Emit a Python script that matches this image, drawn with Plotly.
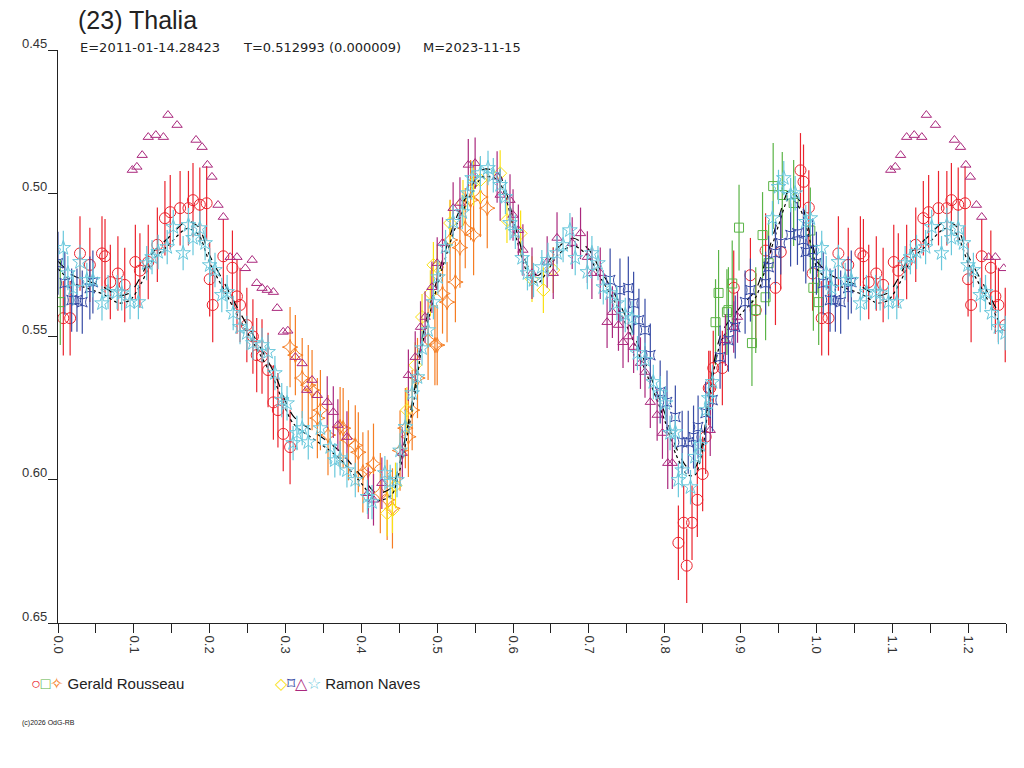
import plotly.graph_objects as go

# phase / magnitude readings, one list pair per observer set
red_phase = [0.007, 0.016, 0.029, 0.042, 0.058, 0.062, 0.069, 0.079, 0.088, 0.102,
             0.108, 0.119, 0.131, 0.141, 0.148, 0.161, 0.172, 0.178, 0.187, 0.196,
             0.200, 0.204, 0.218, 0.230, 0.236, 0.240, 0.249, 0.257, 0.262, 0.269,
             0.277, 0.284, 0.290, 0.297, 0.306,
             0.818, 0.825, 0.829, 0.836, 0.843, 0.850, 0.854, 0.858, 0.860, 0.864,
             0.876, 0.891, 0.913, 0.920, 0.933, 0.946, 0.953, 0.979, 0.983, 0.990, 0.995]
red_mag = [0.5436, 0.5436, 0.521, 0.525, 0.521, 0.522, 0.531, 0.528, 0.532, 0.524,
           0.527, 0.524, 0.518, 0.5087, 0.5066, 0.5052, 0.5052, 0.5024, 0.504, 0.5035,
           0.530, 0.539, 0.522, 0.526, 0.536, 0.539, 0.546, 0.550, 0.5565, 0.557,
           0.5617, 0.573, 0.5757, 0.584, 0.5886,
           0.622, 0.615, 0.630, 0.615, 0.607, 0.598, 0.585, 0.568, 0.568, 0.561,
           0.561, 0.533, 0.5286, 0.5408, 0.520, 0.533, 0.5205, 0.492, 0.496, 0.505, 0.528]

green_phase = [0.003, 0.867, 0.871, 0.882, 0.884, 0.889, 0.898, 0.915, 0.920, 0.929,
               0.933, 0.937, 0.943, 0.955, 0.970, 0.992, 0.996]
green_mag = [0.538, 0.545, 0.5348, 0.5415, 0.5408, 0.5315, 0.512, 0.5523, 0.5408, 0.5146,
             0.5363, 0.5244, 0.4975, 0.5006, 0.5034, 0.513, 0.533]

orange_phase = [0.306, 0.313, 0.322, 0.330, 0.335, 0.342, 0.346, 0.356, 0.372, 0.376,
                0.383, 0.392, 0.396, 0.402, 0.409, 0.416, 0.425, 0.434, 0.441, 0.451,
                0.458, 0.462, 0.467, 0.474, 0.488, 0.497, 0.500, 0.507, 0.513, 0.517,
                0.524, 0.530, 0.537, 0.544, 0.548, 0.557, 0.566]
orange_mag = [0.5537, 0.5565, 0.5645, 0.567, 0.5687, 0.5785, 0.5757, 0.5844, 0.5816, 0.582,
              0.5862, 0.588, 0.5904, 0.5974, 0.5967, 0.5944, 0.6047, 0.607, 0.610, 0.5898,
              0.582, 0.585, 0.5757, 0.5645, 0.5512, 0.553, 0.553, 0.535, 0.538, 0.5163,
              0.531, 0.519, 0.5122, 0.5024, 0.5146, 0.5013, 0.5052]

yellow_phase = [0.434, 0.441, 0.445, 0.460, 0.471, 0.480, 0.491, 0.495, 0.500, 0.517,
                0.534, 0.548, 0.557, 0.583, 0.592, 0.610, 0.625, 0.640, 0.653]
yellow_mag = [0.6117, 0.6106, 0.602, 0.5757, 0.56, 0.5432, 0.5349, 0.525, 0.5258, 0.5104,
              0.5034, 0.4964, 0.4954, 0.493, 0.5094, 0.514, 0.530, 0.5338, 0.5268]

# offset night, plotted without error bars
purple_top_phase = [0.098, 0.104, 0.111, 0.119, 0.129, 0.139, 0.145, 0.157, 0.182, 0.190,
                    0.197, 0.203, 0.211, 0.218, 0.227, 0.236, 0.247, 0.256, 0.262, 0.269,
                    0.276, 0.284, 0.289, 0.297, 0.303, 0.313, 0.322, 0.328, 0.335, 0.342]
purple_top_mag = [0.4919, 0.4908, 0.4867, 0.4804, 0.4797, 0.4804, 0.4727, 0.4762, 0.4814, 0.4839,
                  0.4901, 0.4943, 0.5041, 0.5083, 0.5223, 0.5223, 0.5262, 0.5233, 0.5314, 0.5331,
                  0.5338, 0.5345, 0.5401, 0.5484, 0.548, 0.5572, 0.5594, 0.5687, 0.5652, 0.5705]

purple_phase = [0.355, 0.363, 0.369, 0.381, 0.409, 0.416, 0.427, 0.454, 0.462, 0.471,
                0.478, 0.484, 0.493, 0.500, 0.507, 0.521, 0.530, 0.541, 0.550, 0.579,
                0.583, 0.596, 0.600, 0.607, 0.613, 0.625, 0.645, 0.653, 0.658, 0.678,
                0.689, 0.698, 0.704, 0.715, 0.724, 0.731, 0.739, 0.745, 0.752, 0.759,
                0.768, 0.774, 0.781, 0.790, 0.797, 0.804, 0.810, 0.860, 0.880, 0.891, 0.896]
purple_mag = [0.5729, 0.5764, 0.5809, 0.5851, 0.6047, 0.607, 0.6012, 0.5907, 0.5635, 0.5572,
              0.5467, 0.5432, 0.5328, 0.5244, 0.5174, 0.5052, 0.5034, 0.4901, 0.4895, 0.4943,
              0.5006, 0.5024, 0.5076, 0.5129, 0.5198, 0.5279, 0.524, 0.5279, 0.5156, 0.5174,
              0.514, 0.5223, 0.5279, 0.5279, 0.545, 0.5415, 0.546, 0.552, 0.550, 0.5537,
              0.5593, 0.5624, 0.5729, 0.5774, 0.5837, 0.5942, 0.5942, 0.5827, 0.5513, 0.5467, 0.5432]

blue_phase = [0.000, 0.009, 0.018, 0.025, 0.032, 0.042, 0.046, 0.728, 0.741, 0.752,
              0.759, 0.766, 0.774, 0.781, 0.794, 0.803, 0.814, 0.823, 0.831, 0.838,
              0.844, 0.854, 0.863, 0.873, 0.884, 0.893, 0.906, 0.913, 0.933, 0.937,
              0.946, 0.953, 0.966, 0.975, 0.983, 0.986, 0.995]
blue_mag = [0.5244, 0.5314, 0.5373, 0.5373, 0.538, 0.5331, 0.531, 0.5303, 0.5338, 0.5331,
            0.5384, 0.5443, 0.5478, 0.5565, 0.5694, 0.5729, 0.5781, 0.5869, 0.5869, 0.5851,
            0.5816, 0.5767, 0.5722, 0.5572, 0.5513, 0.5467, 0.538, 0.5338, 0.5314, 0.5258,
            0.5209, 0.5174, 0.5146, 0.514, 0.5163, 0.5205, 0.5198]

cyan_phase = [0.007, 0.013, 0.020, 0.029, 0.038, 0.046, 0.058, 0.066, 0.078, 0.084,
              0.095, 0.106, 0.117, 0.124, 0.132, 0.144, 0.152, 0.165, 0.172, 0.178,
              0.187, 0.194, 0.200, 0.207, 0.216, 0.223, 0.231, 0.240, 0.249, 0.257,
              0.269, 0.277, 0.286, 0.295, 0.302, 0.310, 0.315, 0.322, 0.330, 0.346,
              0.359, 0.365, 0.372, 0.381, 0.392, 0.408, 0.414, 0.431, 0.438, 0.447,
              0.451, 0.458, 0.467, 0.474, 0.480, 0.488, 0.495, 0.501, 0.511, 0.521,
              0.533, 0.540, 0.546, 0.557, 0.567, 0.574, 0.583, 0.590, 0.596, 0.603,
              0.612, 0.619, 0.627, 0.638, 0.646, 0.658, 0.666, 0.675, 0.682, 0.698,
              0.704, 0.712, 0.719, 0.728, 0.737, 0.748, 0.757, 0.764, 0.774, 0.785,
              0.794, 0.801, 0.807, 0.814, 0.823, 0.818, 0.834, 0.840, 0.847, 0.854,
              0.858, 0.863, 0.942, 0.950, 0.957, 0.966, 0.972, 0.986, 0.992]
cyan_mag = [0.5191, 0.5279, 0.5331, 0.524, 0.5303, 0.5303, 0.5384, 0.5345, 0.5345, 0.5349,
            0.538, 0.538, 0.5244, 0.5223, 0.5205, 0.5188, 0.5118, 0.5209, 0.5111, 0.5156,
            0.5122, 0.5174, 0.5251, 0.5268, 0.5355, 0.5345, 0.5418, 0.5467, 0.5488, 0.5523,
            0.553, 0.5554, 0.5628, 0.5722, 0.5733, 0.5872, 0.5837, 0.582, 0.5869, 0.582,
            0.5886, 0.5932, 0.5925, 0.5967, 0.6001, 0.606, 0.6078, 0.5977, 0.6008, 0.6001,
            0.5898, 0.5816, 0.5698, 0.5642, 0.5541, 0.5478, 0.538, 0.5293, 0.5188, 0.510,
            0.5066, 0.500, 0.4947, 0.493, 0.4912, 0.4937, 0.4971, 0.5013, 0.5104, 0.5135,
            0.5226, 0.5279, 0.5303, 0.5258, 0.5233, 0.5209, 0.5181, 0.5129, 0.5226, 0.5275,
            0.5209, 0.5244, 0.5328, 0.5349, 0.5384, 0.5425, 0.5436, 0.5558, 0.5582, 0.5659,
            0.5698, 0.5733, 0.5837, 0.5834, 0.5967, 0.6001, 0.6026, 0.592, 0.5879, 0.5757,
            0.5715, 0.5659, 0.5087, 0.4978, 0.4947, 0.5006, 0.500, 0.510, 0.5087]

# fitted lightcurve
fit_phase = [0.00, 0.02, 0.04, 0.06, 0.08, 0.095, 0.11, 0.125, 0.145, 0.17,
             0.185, 0.20, 0.22, 0.24, 0.26, 0.285, 0.31, 0.34, 0.37, 0.40,
             0.42, 0.44, 0.45, 0.46, 0.47, 0.48, 0.495, 0.51, 0.525, 0.545,
             0.56, 0.58, 0.59, 0.605, 0.62, 0.633, 0.645, 0.66, 0.68, 0.70,
             0.715, 0.735, 0.755, 0.775, 0.80, 0.815, 0.83, 0.84, 0.85, 0.86,
             0.875, 0.90, 0.92, 0.935, 0.95, 0.965, 0.98, 1.00]
fit_mag = [0.525, 0.530, 0.532, 0.534, 0.537, 0.536, 0.530, 0.522, 0.517, 0.511,
           0.513, 0.523, 0.533, 0.543, 0.552, 0.564, 0.579, 0.585, 0.591, 0.600,
           0.606, 0.604, 0.596, 0.584, 0.570, 0.552, 0.536, 0.522, 0.510, 0.499,
           0.493, 0.494, 0.500, 0.515, 0.527, 0.530, 0.526, 0.520, 0.517, 0.521,
           0.528, 0.537, 0.548, 0.561, 0.578, 0.590, 0.597, 0.597, 0.588, 0.568,
           0.550, 0.541, 0.535, 0.523, 0.510, 0.500, 0.505, 0.525]

y_ticks = [0.45, 0.50, 0.55, 0.60, 0.65]
x_ticks = [0.0, 0.1, 0.2, 0.3, 0.4, 0.5, 0.6, 0.7, 0.8, 0.9, 1.0, 1.1, 1.2]

WRAP = 0.25  # phases below this are repeated after 1.0


def wrap(phase, mag):
    xs = list(phase) + [p + 1 for p in phase if p <= WRAP]
    ys = list(mag) + [m for p, m in zip(phase, mag) if p <= WRAP]
    return xs, ys


RED = "rgb(235,35,45)"
GREEN = "rgb(90,180,70)"
ORANGE = "rgb(245,125,35)"
YELLOW = "rgb(250,225,20)"
PURPLE = "rgb(170,40,125)"
BLUE = "rgb(55,75,165)"
CYAN = "rgb(105,200,220)"

fig = go.Figure()


def add_points(phase, mag, color, symbol, size, err):
    xs, ys = wrap(phase, mag)
    fig.add_trace(go.Scatter(
        x=xs, y=ys, mode="markers",
        marker=dict(symbol=symbol, size=size, color=color, line=dict(color=color, width=1)),
        error_y=dict(type="constant", value=err, color=color, thickness=1.2, width=0,
                     visible=err > 0),
        showlegend=False, hoverinfo="x+y"))


add_points(red_phase, red_mag, RED, "circle-open", 11, 0.013)
add_points(green_phase, green_mag, GREEN, "square-open", 9, 0.015)
add_points(orange_phase, orange_mag, ORANGE, "star-diamond-open", 11, 0.014)
add_points(yellow_phase, yellow_mag, YELLOW, "diamond-open", 10, 0.008)

# fitted curve with its close companion
fx, fy = wrap(fit_phase, fit_mag)
order = sorted(range(len(fx)), key=lambda i: fx[i])
fx = [fx[i] for i in order]
fy = [fy[i] for i in order]
for off, dash in [(-0.0013, "dash"), (0.0013, "dot")]:
    fig.add_trace(go.Scatter(
        x=fx, y=[v + off for v in fy], mode="lines",
        line=dict(color="black", width=1.2, dash=dash, shape="spline", smoothing=0.8),
        showlegend=False, hoverinfo="skip"))

add_points(purple_top_phase, purple_top_mag, PURPLE, "triangle-up-open", 9, 0)
add_points(purple_phase, purple_mag, PURPLE, "triangle-up-open", 9, 0.009)
add_points(blue_phase, blue_mag, BLUE, "star-square-open", 9, 0.011)
add_points(cyan_phase, cyan_mag, CYAN, "star-open", 11, 0.006)

annotations = []
for v in y_ticks:
    annotations.append(dict(x=0, y=v, xref="paper", yref="y", text=f"{v:.2f}",
                            showarrow=False, xanchor="right", yanchor="middle",
                            xshift=-9, yshift=7, font=dict(size=13, color="#333")))

# subtitle pieces, placed where they sit in the original
subtitle = [(0.021, "E=2011-01-14.28423"), (0.193, "T=0.512993 (0.000009)"),
            (0.383, "M=2023-11-15")]
for xpos, txt in subtitle:
    annotations.append(dict(x=xpos, y=1.004, xref="paper", yref="paper", text=txt,
                            showarrow=False, xanchor="left", yanchor="middle",
                            font=dict(family="DejaVu Sans, sans-serif", size=13, color="#222")))

legend_items = [
    (-0.031, [("○", RED), ("□", GREEN), ("✧", ORANGE)], "Gerald Rousseau"),
    (0.227, [("◇", YELLOW), ("⌑", BLUE), ("△", PURPLE), ("☆", CYAN)], "Ramon Naves"),
]
for xpos, syms, name in legend_items:
    marks = "".join(f'<span style="color:{c};font-size:16px">{s}</span>' for s, c in syms)
    annotations.append(dict(x=xpos, y=-0.105, xref="paper", yref="paper",
                            text=f"{marks} {name}", showarrow=False,
                            xanchor="left", yanchor="middle",
                            font=dict(size=15, color="#222")))

annotations.append(dict(x=-0.040, y=-0.175, xref="paper", yref="paper",
                        text="(c)2026 OdG-RB", showarrow=False,
                        xanchor="left", yanchor="middle",
                        font=dict(size=7, color="#222")))

fig.update_layout(
    width=1024, height=768,
    margin=dict(l=58, r=18, t=50, b=145),
    paper_bgcolor="white", plot_bgcolor="white",
    font=dict(family="Liberation Sans, Arial, sans-serif", color="#222"),
    title=dict(text="(23) Thalia", x=78 / 1024, xref="container", xanchor="left",
               y=1 - 20 / 768, yref="container", yanchor="middle",
               font=dict(size=25, color="#222")),
    xaxis=dict(range=[0, 1.25], showgrid=False, zeroline=False,
               showline=True, linecolor="#222", linewidth=1,
               tickvals=x_ticks, ticktext=[f"{v:.1f}" for v in x_ticks],
               ticks="outside", ticklen=9, tickcolor="#222", tickangle=90,
               tickfont=dict(size=13, color="#333"),
               minor=dict(dtick=0.05, tick0=0.05, ticks="outside", ticklen=9, tickcolor="#222")),
    yaxis=dict(range=[0.65, 0.45], showgrid=False, zeroline=False,
               showline=True, linecolor="#222", linewidth=1,
               tickvals=y_ticks, showticklabels=False,
               ticks="outside", ticklen=9, tickcolor="#222"),
    annotations=annotations,
)

fig.write_html("out.html", config={"displayModeBar": False},
               post_script="document.body.style.margin='0';")
